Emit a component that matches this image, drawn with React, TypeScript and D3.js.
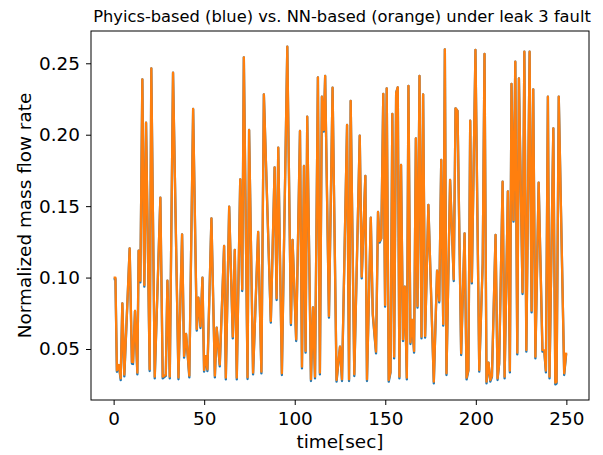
import React, { useEffect, useRef } from 'react';
import * as d3 from 'd3';

// time stamps [sec] (turning points of the signal)
const times = [
  0, 1.0, 1.8, 2.9, 3.9, 4.8, 5.9, 8.85, 10.1, 10.7,
  11.8, 13.1, 13.8, 14.75, 15.85, 16.95, 17.9, 19.9, 20.8, 22.7,
  25.8, 27.1, 28.8, 29.7, 31.0, 32.8, 35.8, 37.8, 38.9, 40.0,
  41.8, 43.9, 45.9, 46.8, 47.95, 49.05, 49.95, 50.9, 51.8, 54.0,
  55.9, 56.9, 58.6, 61.0, 61.95, 63.8, 65.8, 66.9, 68.0, 69.9,
  71.0, 71.9, 73.95, 74.8, 77.0, 79.8, 81.6, 82.96, 86.8, 88.9,
  90.0, 90.9, 92.9, 95.9, 97.9, 98.8, 100.8, 102.9, 104.0, 105.1,
  106.0, 106.9, 108.96, 110.1, 111.2, 112.8, 113.9, 115.0, 116.0, 116.8,
  118.9, 120.9, 123.1, 125.0, 126.1, 128.9, 130.0, 130.9, 132.9, 135.9,
  137.0, 139.0, 139.9, 142.0, 143.1, 144.9, 146.0, 146.9, 147.8, 148.9,
  149.9, 150.8, 151.9, 152.9, 153.9, 154.9, 156.0, 156.9, 157.8, 158.7,
  159.8, 160.8, 161.9, 162.8, 163.9, 164.8, 165.9, 166.9, 167.8, 168.9,
  170.0, 170.9, 172.0, 173.8, 176.8, 178.6, 179.8, 180.9, 182.0, 182.9,
  183.8, 185.8, 187.8, 188.8, 189.9, 191.9, 193.8, 194.9, 195.9, 196.9,
  197.8, 199.8, 201.9, 203.8, 204.8, 205.9, 207.0, 208.0, 208.9, 210.9,
  212.0, 212.9, 214.8, 215.9, 217.7, 218.8, 219.7, 220.8, 221.8, 222.9,
  223.8, 225.8, 226.8, 227.9, 229.7, 230.8, 231.7, 232.9, 234.7, 236.8,
  237.8, 238.7, 239.8, 240.7, 242.8, 243.9, 244.6, 245.8, 248.8, 249.9,
];

// physics-based model (blue)
const physics = [
  0.099, 0.099, 0.034, 0.0385, 0.0282, 0.082, 0.0308, 0.1205, 0.0398, 0.0395,
  0.0766, 0.0322, 0.1188, 0.0966, 0.2388, 0.0936, 0.2084, 0.0346, 0.2465, 0.0294,
  0.1559, 0.0294, 0.0312, 0.0978, 0.0294, 0.2435, 0.0288, 0.1303, 0.0439, 0.0605,
  0.0301, 0.218, 0.0628, 0.0859, 0.0647, 0.0999, 0.0341, 0.045, 0.0346, 0.1415,
  0.0301, 0.0649, 0.0378, 0.1221, 0.0287, 0.1496, 0.0574, 0.1193, 0.0287, 0.1688,
  0.0906, 0.2542, 0.029, 0.2033, 0.0322, 0.1319, 0.0329, 0.2283, 0.0684, 0.1772,
  0.0843, 0.1909, 0.0318, 0.2616, 0.0668, 0.1263, 0.0556, 0.2026, 0.0364, 0.1781,
  0.0474, 0.2126, 0.0276, 0.0792, 0.0294, 0.2402, 0.0322, 0.2266, 0.2021, 0.2411,
  0.0719, 0.2329, 0.0271, 0.0516, 0.0276, 0.2068, 0.0276, 0.2236, 0.0311, 0.1993,
  0.0994, 0.1711, 0.0276, 0.1419, 0.0738, 0.0469, 0.1459, 0.1244, 0.1275, 0.2285,
  0.0796, 0.2325, 0.0271, 0.0335, 0.2145, 0.0434, 0.2294, 0.2332, 0.0294, 0.1788,
  0.0556, 0.0936, 0.0287, 0.2341, 0.0535, 0.0703, 0.0474, 0.1975, 0.0789, 0.2411,
  0.0574, 0.2283, 0.0579, 0.1508, 0.0259, 0.1048, 0.0826, 0.1823, 0.0663, 0.2598,
  0.0318, 0.1683, 0.0976, 0.2185, 0.2166, 0.0458, 0.131, 0.0287, 0.0348, 0.2098,
  0.0959, 0.2593, 0.0341, 0.11, 0.2565, 0.0259, 0.0404, 0.0271, 0.0305, 0.1298,
  0.0283, 0.0398, 0.1671, 0.0294, 0.1604, 0.0336, 0.2355, 0.1391, 0.2511, 0.0462,
  0.2395, 0.0885, 0.2581, 0.0481, 0.2581, 0.0756, 0.2318, 0.0434, 0.1664, 0.0481,
  0.0485, 0.0336, 0.2266, 0.0294, 0.2045, 0.0252, 0.0258, 0.2266, 0.0318, 0.0468,
];

// NN-based model (orange)
const nn = [
  0.100, 0.100, 0.035, 0.0388, 0.0295, 0.082, 0.032, 0.1205, 0.041, 0.0407,
  0.0766, 0.0334, 0.1188, 0.0978, 0.2388, 0.0948, 0.2084, 0.0358, 0.2465, 0.0306,
  0.1559, 0.0306, 0.032, 0.0978, 0.0306, 0.2435, 0.030, 0.1303, 0.0451, 0.0605,
  0.0313, 0.218, 0.064, 0.0859, 0.0659, 0.0999, 0.0353, 0.045, 0.0358, 0.1415,
  0.0313, 0.0649, 0.039, 0.1221, 0.0299, 0.1496, 0.0586, 0.1193, 0.0299, 0.1688,
  0.0918, 0.2542, 0.0302, 0.2033, 0.0334, 0.1319, 0.0341, 0.2283, 0.0696, 0.1772,
  0.0855, 0.1909, 0.033, 0.2616, 0.068, 0.1263, 0.0568, 0.2026, 0.0376, 0.1781,
  0.0486, 0.2126, 0.0288, 0.0792, 0.0306, 0.2402, 0.0334, 0.2266, 0.2033, 0.2411,
  0.0731, 0.2329, 0.0283, 0.0516, 0.0288, 0.2068, 0.0288, 0.2236, 0.0323, 0.1993,
  0.1006, 0.1711, 0.0288, 0.1419, 0.075, 0.0481, 0.1459, 0.1256, 0.1275, 0.2285,
  0.0808, 0.2325, 0.0283, 0.034, 0.2145, 0.0446, 0.2294, 0.2332, 0.0306, 0.1788,
  0.0568, 0.0936, 0.0299, 0.2341, 0.0547, 0.0703, 0.0486, 0.1975, 0.0801, 0.2411,
  0.0586, 0.2283, 0.0591, 0.1508, 0.0271, 0.1048, 0.0838, 0.1823, 0.0675, 0.2598,
  0.033, 0.1683, 0.0988, 0.2185, 0.2166, 0.047, 0.131, 0.0299, 0.0353, 0.2098,
  0.0971, 0.2593, 0.0353, 0.11, 0.2565, 0.0271, 0.0404, 0.0283, 0.031, 0.1298,
  0.0295, 0.040, 0.1671, 0.0306, 0.1604, 0.0348, 0.2355, 0.1403, 0.2511, 0.0474,
  0.2395, 0.0897, 0.2581, 0.0493, 0.2581, 0.0768, 0.2318, 0.0446, 0.1664, 0.0493,
  0.049, 0.0348, 0.2266, 0.0306, 0.2045, 0.0264, 0.027, 0.2266, 0.033, 0.0474,
];

const xTicks = [0, 50, 100, 150, 200, 250];
const yTicks = [0.05, 0.1, 0.15, 0.2, 0.25];

const App = () => {
  const chartRef = useRef<SVGSVGElement>(null);

  useEffect(() => {
    const width = 603;
    const height = 455;
    const left = 91;
    const right = 589;
    const top = 31;
    const bottom = 400;
    const font = 'DejaVu Sans, sans-serif';
    const fontSize = '18.4px';

    const svg = d3.select(chartRef.current);
    svg.selectAll('*').remove();
    svg.attr('width', width).attr('height', height);

    const x = d3.scaleLinear().domain([-12.5, 262.5]).range([left, right]);
    const y = d3.scaleLinear().domain([0.0143, 0.2726]).range([bottom, top]);

    const line = d3
      .line<number>()
      .x((_, i) => x(times[i]))
      .y((d) => y(d));

    // series
    [
      { values: physics, color: '#1f77b4' },
      { values: nn, color: '#ff7f0e' },
    ].forEach((s) => {
      svg
        .append('path')
        .datum(s.values)
        .attr('fill', 'none')
        .attr('stroke', s.color)
        .attr('stroke-width', 2.3)
        .attr('stroke-linejoin', 'round')
        .attr('d', line);
    });

    // axes
    const xAxis = svg
      .append('g')
      .attr('transform', `translate(0,${bottom})`)
      .call(d3.axisBottom(x).tickValues(xTicks).tickSize(5).tickPadding(7).tickFormat(d3.format('d')));
    const yAxis = svg
      .append('g')
      .attr('transform', `translate(${left},0)`)
      .call(d3.axisLeft(y).tickValues(yTicks).tickSize(5).tickPadding(6).tickFormat(d3.format('.2f')));

    [xAxis, yAxis].forEach((g) => {
      g.select('.domain').remove();
      g.selectAll('line').attr('stroke', '#000').attr('stroke-width', 1);
      g.selectAll('text')
        .attr('fill', '#000')
        .style('font-family', font)
        .style('font-size', fontSize);
    });

    // frame
    svg
      .append('rect')
      .attr('x', left)
      .attr('y', top)
      .attr('width', right - left)
      .attr('height', bottom - top)
      .attr('fill', 'none')
      .attr('stroke', '#000')
      .attr('stroke-width', 1);

    // labels
    svg
      .append('text')
      .attr('x', (left + right) / 2 + 2)
      .attr('y', 22)
      .attr('text-anchor', 'middle')
      .style('font-family', font)
      .style('font-size', '16.3px')
      .text('Phyics-based (blue) vs. NN-based (orange) under leak 3 fault');

    svg
      .append('text')
      .attr('x', (left + right) / 2)
      .attr('y', 448)
      .attr('text-anchor', 'middle')
      .style('font-family', font)
      .style('font-size', fontSize)
      .text('time[sec]');

    svg
      .append('text')
      .attr('transform', `translate(31,${(top + bottom) / 2}) rotate(-90)`)
      .attr('text-anchor', 'middle')
      .style('font-family', font)
      .style('font-size', fontSize)
      .text('Normalized mass flow rate');
  }, []);

  return (
    <div>
      <svg ref={chartRef} style={{ position: 'absolute', left: 0, top: 0, background: '#fff' }}></svg>
    </div>
  );
};

export default App;
